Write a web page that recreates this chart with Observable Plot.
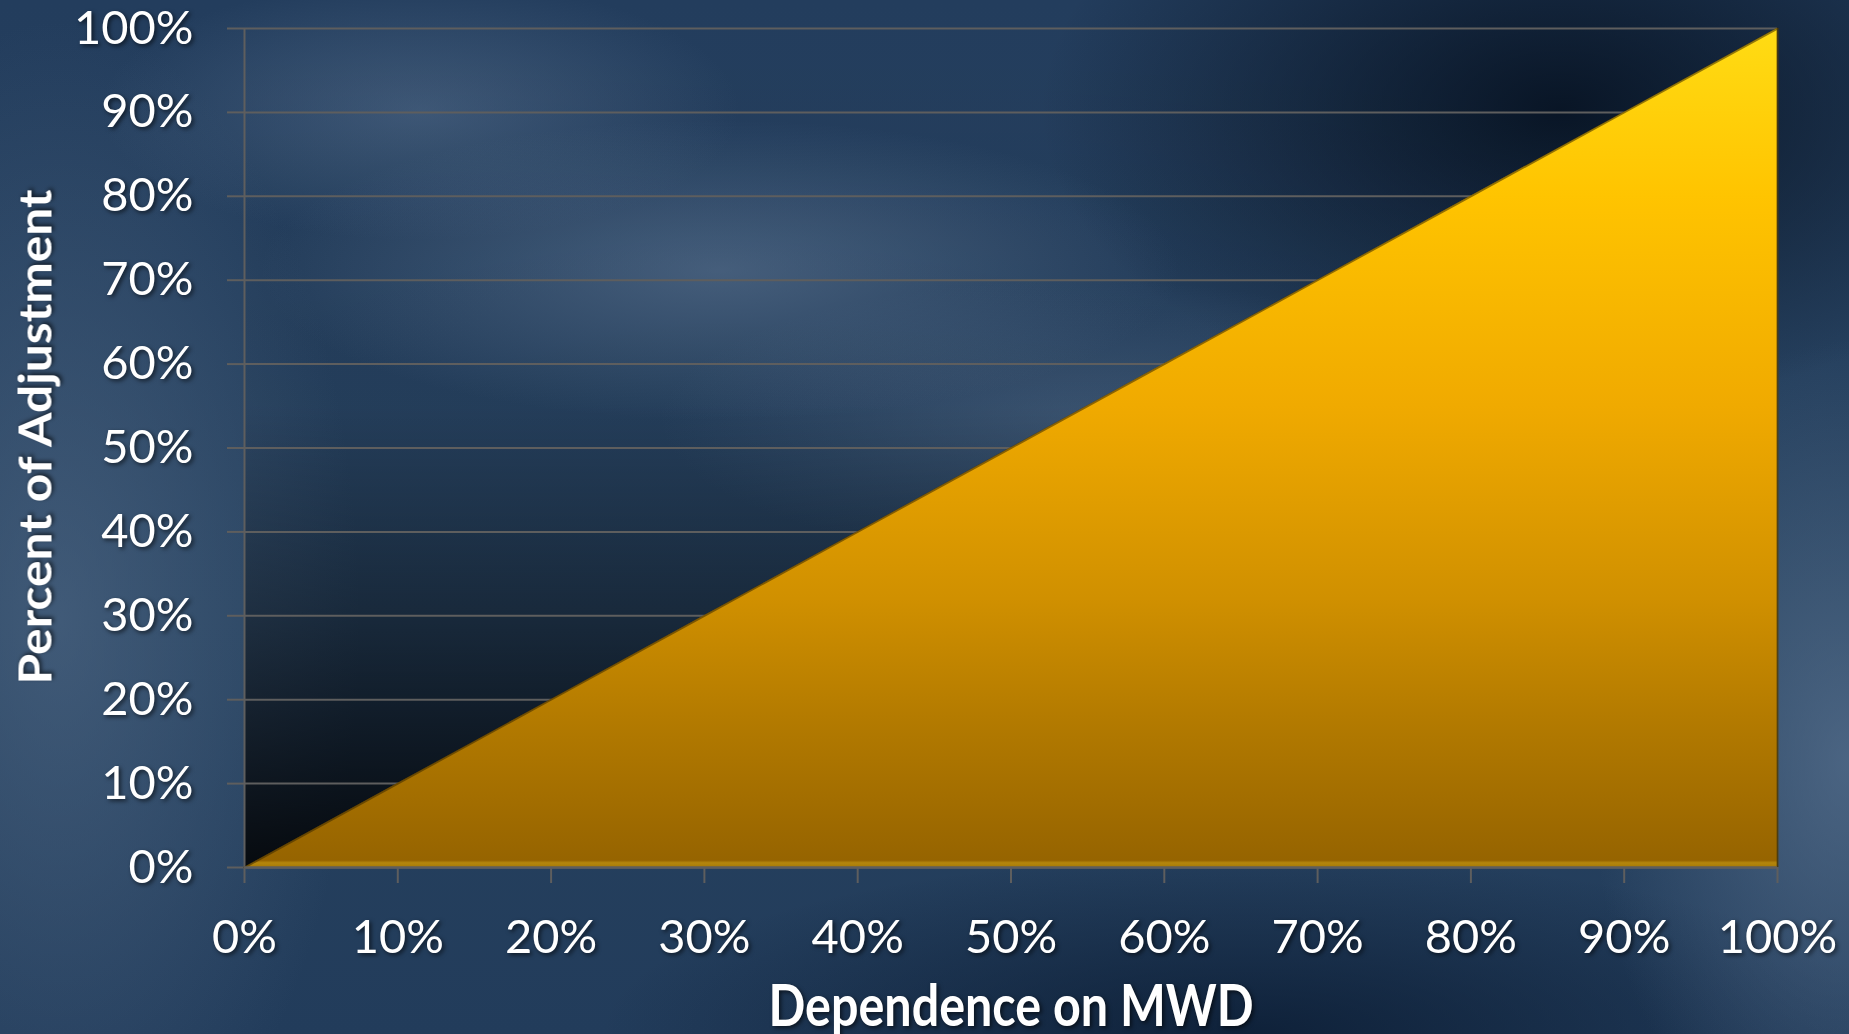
<!DOCTYPE html>
<html>
<head>
<meta charset="utf-8">
<script src="https://cdn.jsdelivr.net/npm/d3@7"></script>
<script src="https://cdn.jsdelivr.net/npm/@observablehq/plot@0.6"></script>
<style>
  html, body { margin: 0; padding: 0; width: 1849px; height: 1034px; overflow: hidden; }
  body {
    background:
      radial-gradient(ellipse 460px 150px at 720px 270px, rgba(105,130,160,0.50), rgba(105,130,160,0) 100%),
      radial-gradient(ellipse 320px 130px at 420px 110px, rgba(95,120,150,0.45), rgba(95,120,150,0) 100%),
      radial-gradient(ellipse 420px 140px at 1080px 420px, rgba(95,120,150,0.40), rgba(95,120,150,0) 100%),
      radial-gradient(ellipse 520px 300px at 1560px 110px, rgba(4,14,28,0.85), rgba(4,14,28,0) 100%),
      radial-gradient(ellipse 260px 420px at 1849px 760px, rgba(95,120,150,0.65), rgba(95,120,150,0) 100%),
      radial-gradient(ellipse 300px 600px at 60px 620px, rgba(85,110,140,0.55), rgba(85,110,140,0) 100%),
      radial-gradient(ellipse 650px 180px at 1250px 1034px, rgba(8,24,46,0.75), rgba(8,24,46,0) 100%),
      linear-gradient(180deg, #233d5d 0%, #27425f 60%, #223c5b 100%);
  }
  svg text { filter: drop-shadow(2px 2px 2px rgba(0,0,0,0.6)); }
</style>
</head>
<body>
<script>
// Data
const dependence = [0, 10, 20, 30, 40, 50, 60, 70, 80, 90, 100];   // Dependence on MWD (%)
const adjustment = [0, 10, 20, 30, 40, 50, 60, 70, 80, 90, 100];   // Percent of Adjustment (%)
const xTickValues = [0, 10, 20, 30, 40, 50, 60, 70, 80, 90, 100];
const xTickLabels = ["0%", "10%", "20%", "30%", "40%", "50%", "60%", "70%", "80%", "90%", "100%"];
const yTickValues = [0, 10, 20, 30, 40, 50, 60, 70, 80, 90, 100];
const yTickLabels = ["0%", "10%", "20%", "30%", "40%", "50%", "60%", "70%", "80%", "90%", "100%"];
const xTitle = "Dependence on MWD";
const yTitle = "Percent of Adjustment";

const rows = dependence.map((d, i) => ({dep: d, adj: adjustment[i]}));

const W = 1849, H = 1034;
const mL = 244, mR = 72, mT = 28, mB = 167;

const defs = () => {
  const g = d3.create("svg:defs");
  const ag = g.append("linearGradient").attr("id", "areaGrad")
    .attr("gradientUnits", "userSpaceOnUse").attr("x1", 0).attr("x2", 0).attr("y1", mT).attr("y2", H - mB);
  [[0, "#ffdc14"], [0.2, "#ffc400"], [0.45, "#f0aa00"], [0.68, "#d09000"], [0.82, "#b47b00"],
   [0.992, "#966400"], [0.995, "#b4860c"], [1, "#a87a06"]]
    .forEach(([o, c]) => ag.append("stop").attr("offset", o).attr("stop-color", c));
  const sg = g.append("linearGradient").attr("id", "plotShade")
    .attr("gradientUnits", "userSpaceOnUse").attr("x1", 0).attr("x2", 0).attr("y1", mT).attr("y2", H - mB);
  [[0, 0], [0.45, 0.05], [0.7, 0.38], [1, 0.85]]
    .forEach(([o, a]) => sg.append("stop").attr("offset", o).attr("stop-color", "#000").attr("stop-opacity", a));
  return g.node();
};

const fmtX = d => xTickLabels[xTickValues.indexOf(d)];
const fmtY = d => yTickLabels[yTickValues.indexOf(d)];

const chart = Plot.plot({
  width: W,
  height: H,
  marginLeft: mL,
  marginRight: mR,
  marginTop: mT,
  marginBottom: mB,
  style: {background: "transparent", fontFamily: "Lato, 'Open Sans', sans-serif", overflow: "visible"},
  x: {domain: [0, 100], label: null},
  y: {domain: [0, 100], label: null},
  marks: [
    defs,
    Plot.frame({fill: "url(#plotShade)", stroke: null}),
    Plot.gridY(yTickValues, {stroke: "#5e5e5e", strokeOpacity: 1, strokeWidth: 2}),
    Plot.axisY(yTickValues, {tickFormat: fmtY, tickSize: 17, tickPadding: 34, fontSize: 47,
      stroke: "#5e5e5e", strokeWidth: 2, fill: "white", label: null}),
    Plot.axisX(xTickValues, {tickFormat: fmtX, tickSize: 16, tickPadding: 36, fontSize: 47,
      stroke: "#5e5e5e", strokeWidth: 2, fill: "white", label: null}),
    Plot.ruleX([0], {stroke: "#5e5e5e", strokeWidth: 2}),
    Plot.areaY(rows, {x: "dep", y: "adj", fill: "url(#areaGrad)"}),
    Plot.lineY(rows, {x: "dep", y: "adj", stroke: "#3d2a00", strokeOpacity: 0.55, strokeWidth: 2}),
    Plot.ruleX([100], {y1: 0, y2: 100, stroke: "#5a4000", strokeOpacity: 0.7, strokeWidth: 2}),
    Plot.ruleY([0], {stroke: "#5e5e5e", strokeWidth: 2.5}),
    Plot.text([xTitle], {text: d => d, frameAnchor: "bottom", dy: 158, lineAnchor: "bottom",
      fontSize: 57, fontWeight: "bold", fill: "white", className: "xtitle"}),
    Plot.text([yTitle], {text: d => d, frameAnchor: "left", dx: -208, dy: -11, rotate: -90, lineAnchor: "middle",
      textAnchor: "middle", fontSize: 46, fontWeight: "bold", fill: "white", className: "ytitle"})
  ]
});

d3.select(chart).selectAll(".xtitle text").attr("textLength", 485).attr("lengthAdjust", "spacingAndGlyphs");
d3.select(chart).selectAll(".ytitle text").attr("textLength", 495).attr("lengthAdjust", "spacingAndGlyphs");

document.body.appendChild(chart);
</script>
</body>
</html>
